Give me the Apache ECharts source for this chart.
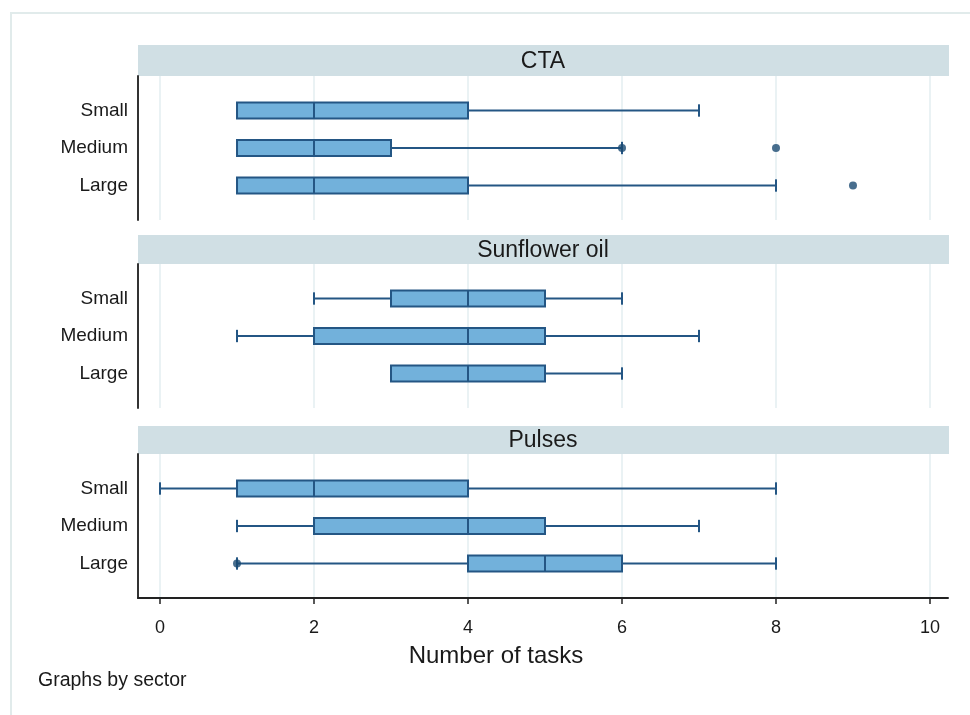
<!DOCTYPE html>
<html>
<head>
<meta charset="utf-8">
<title>Number of tasks by sector and size</title>
<script src="https://cdn.jsdelivr.net/npm/echarts@6/dist/echarts.min.js"></script>
<style>
  html, body { margin: 0; padding: 0; background: #ffffff; }
  #main { width: 970px; height: 715px; }
</style>
</head>
<body>
<div id="main"></div>
<script>
// Panels, one per sector
const sectors = ['CTA', 'Sunflower oil', 'Pulses'];
// Firm size groups, top to bottom inside each panel
const sizes = ['Small', 'Medium', 'Large'];

// Box summaries per size group: [lower adjacent, Q1, median, Q3, upper adjacent]
const ctaBoxes       = [[1, 1, 2, 4, 7], [1, 1, 2, 3, 6], [1, 1, 2, 4, 8]];
const sunflowerBoxes = [[2, 3, 4, 5, 6], [1, 2, 4, 5, 7], [3, 3, 4, 5, 6]];
const pulsesBoxes    = [[0, 1, 2, 4, 8], [1, 2, 4, 5, 7], [1, 4, 5, 6, 8]];

// Outside values: [number of tasks, size group]
const ctaOutliers       = [[6, 'Medium'], [8, 'Medium'], [9, 'Large']];
const sunflowerOutliers = [];
const pulsesOutliers    = [[1, 'Large']];

// Axis ticks
const xTicks = [0, 2, 4, 6, 8, 10];
const xTitle = 'Number of tasks';
const note = 'Graphs by sector';

const panelBoxes = [ctaBoxes, sunflowerBoxes, pulsesBoxes];
const panelOutliers = [ctaOutliers, sunflowerOutliers, pulsesOutliers];

// Layout
const plotLeft = 138, plotRight = 22;
const plotWidth = 970 - plotLeft - plotRight;
const gridTops = [76, 264, 454];
const gridHeight = 144;
const headerTops = [45, 235, 426];

const boxFill = '#72b1db';
const boxLine = '#245684';
const dark = '#1a4a72';
const gridColor = '#e3eef0';
const textColor = '#1a1a1a';

function renderBox(params, api) {
  const y = api.value(0);
  const lo = api.coord([api.value(1), y]);
  const q1 = api.coord([api.value(2), y]);
  const md = api.coord([api.value(3), y]);
  const q3 = api.coord([api.value(4), y]);
  const hi = api.coord([api.value(5), y]);
  const cy = q1[1];
  const halfBox = api.size([0, 0.43])[1] / 2;
  const halfCap = api.size([0, 0.33])[1] / 2;
  const lineStyle = { stroke: boxLine, lineWidth: 2, fill: null };
  const children = [];
  if (lo[0] < q1[0] - 0.5) {
    children.push({ type: 'line', shape: { x1: lo[0], y1: cy, x2: q1[0], y2: cy }, style: lineStyle });
    children.push({ type: 'line', shape: { x1: lo[0], y1: cy - halfCap, x2: lo[0], y2: cy + halfCap }, style: lineStyle });
  }
  if (hi[0] > q3[0] + 0.5) {
    children.push({ type: 'line', shape: { x1: q3[0], y1: cy, x2: hi[0], y2: cy }, style: lineStyle });
    children.push({ type: 'line', shape: { x1: hi[0], y1: cy - halfCap, x2: hi[0], y2: cy + halfCap }, style: lineStyle });
  }
  children.push({
    type: 'rect',
    shape: { x: q1[0], y: cy - halfBox, width: q3[0] - q1[0], height: halfBox * 2 },
    style: { fill: boxFill, stroke: boxLine, lineWidth: 2 }
  });
  children.push({ type: 'line', shape: { x1: md[0], y1: cy - halfBox, x2: md[0], y2: cy + halfBox }, style: lineStyle });
  return { type: 'group', children: children };
}

const grids = [], xAxes = [], yAxes = [], series = [], graphics = [];

// Outer frame
graphics.push({
  type: 'rect', left: 10, top: 12, z: -10,
  shape: { x: 0, y: 0, width: 980, height: 720 },
  style: { fill: '#ffffff', stroke: '#e1ebeb', lineWidth: 2 }
});

sectors.forEach((name, i) => {
  const last = i === sectors.length - 1;
  const headerHeight = gridTops[i] - headerTops[i];
  grids.push({ left: plotLeft, width: plotWidth, top: gridTops[i], height: gridHeight, containLabel: false });

  // Panel header strip with the sector name
  graphics.push({
    type: 'rect', x: plotLeft, y: headerTops[i],
    shape: { x: 0, y: 0, width: plotWidth + 1, height: headerHeight },
    style: { fill: '#d0dfe4' }
  });
  graphics.push({
    type: 'text', x: plotLeft + plotWidth / 2, y: headerTops[i] + headerHeight / 2 + 1,
    style: {
      text: name, fill: textColor,
      font: '23px "Liberation Sans", Arial, sans-serif',
      textAlign: 'center', textVerticalAlign: 'middle'
    }
  });

  xAxes.push({
    type: 'value', gridIndex: i,
    min: -0.286, max: 10.234,
    axisLine: { show: last, onZero: false, lineStyle: { color: '#222222', width: 2 } },
    axisTick: { show: last, customValues: xTicks, length: 6, lineStyle: { color: '#222222', width: 1.5 } },
    axisLabel: {
      show: last, customValues: xTicks, margin: 21,
      color: textColor, fontSize: 18,
      fontFamily: '"Liberation Sans Narrow", "Liberation Sans", Arial, sans-serif'
    },
    splitLine: { show: true, lineStyle: { color: gridColor, width: 1.5 } },
    name: last ? xTitle : '',
    nameLocation: 'middle', nameGap: 46,
    nameTextStyle: {
      color: textColor, fontSize: 24,
      padding: [0, 94, 0, 0],
      fontFamily: '"Liberation Sans Narrow", "Liberation Sans", Arial, sans-serif'
    }
  });

  yAxes.push({
    type: 'value', gridIndex: i,
    min: 0.08, max: 3.92, inverse: true,
    axisLine: { show: true, onZero: false, lineStyle: { color: '#333333', width: 2 } },
    axisTick: { show: false },
    axisLabel: {
      customValues: [1, 2, 3], margin: 10,
      formatter: v => sizes[v - 1] || '',
      color: textColor, fontSize: 19,
      fontFamily: '"Liberation Sans", Arial, sans-serif'
    },
    splitLine: { show: false }
  });

  series.push({
    type: 'custom', name: name,
    xAxisIndex: i, yAxisIndex: i,
    renderItem: renderBox,
    encode: { x: [1, 2, 3, 4, 5], y: 0 },
    data: panelBoxes[i].map((b, j) => [j + 1].concat(b)),
    silent: true, z: 3
  });

  series.push({
    type: 'scatter', name: name + ' outside values',
    xAxisIndex: i, yAxisIndex: i,
    symbol: 'circle', symbolSize: 8,
    itemStyle: { color: dark },
    data: panelOutliers[i].map(o => [o[0], sizes.indexOf(o[1]) + 1]),
    silent: true, z: 4
  });
});

// Note under the panels
graphics.push({
  type: 'text', x: 38, y: 681,
  style: {
    text: note, fill: textColor,
    font: '19.5px "Liberation Sans Narrow", "Liberation Sans", Arial, sans-serif',
    textVerticalAlign: 'middle'
  }
});

const chart = echarts.init(document.getElementById('main'));
chart.setOption({
  animation: false,
  backgroundColor: '#ffffff',
  grid: grids,
  xAxis: xAxes,
  yAxis: yAxes,
  series: series,
  graphic: graphics
});
</script>
</body>
</html>
